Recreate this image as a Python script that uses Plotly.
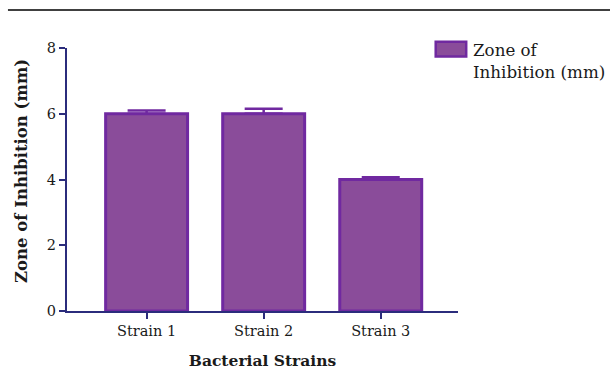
import plotly.graph_objects as go

# Data
strains = ["Strain 1", "Strain 2", "Strain 3"]
zone_mm = [6.0, 6.0, 4.0]
zone_err = [0.1, 0.15, 0.07]
y_ticks = [0, 2, 4, 6, 8]
series_name = "Zone of<br>Inhibition (mm)"

FILL = "#8A4C9A"
EDGE = "#7029A0"
AXIS = "#2B2C7C"
FONT = "DejaVu Serif"
TEXT = "#1a1a1a"

fig = go.Figure()
fig.add_trace(go.Bar(
    x=strains,
    y=zone_mm,
    name=series_name,
    width=0.7,
    showlegend=False,
    marker=dict(color=FILL, line=dict(color=EDGE, width=3)),
    error_y=dict(type="data", array=zone_err, arrayminus=[0] * len(zone_err),
                 symmetric=False, color=EDGE, thickness=2.5, width=19),
))

# Legend key: wide swatch with a two-line label beside it
fig.add_shape(type="rect", xref="paper", yref="paper",
              x0=0.943, x1=1.021, y0=0.968, y1=1.024,
              fillcolor=FILL, line=dict(color=EDGE, width=2.5))
fig.add_annotation(text=series_name, xref="paper", yref="paper",
                   x=1.036, y=1.036, xanchor="left", yanchor="top",
                   align="left", showarrow=False, borderpad=0,
                   font=dict(size=16.7, color=TEXT, family=FONT))

# Vertical axis title
fig.add_annotation(text="<b>Zone of Inhibition (mm)</b>", xref="paper", yref="paper",
                   x=-0.118, y=0.532, xanchor="center", yanchor="middle",
                   textangle=-90, showarrow=False,
                   font=dict(size=16.5, color=TEXT, family=FONT))

fig.update_layout(
    width=610, height=370,
    margin=dict(l=67, r=152, t=48, b=59),
    paper_bgcolor="white", plot_bgcolor="white",
    font=dict(family=FONT, size=14, color=TEXT),
    showlegend=False,
    xaxis=dict(
        range=[-0.68, 2.66], automargin=False,
        showline=True, linecolor=AXIS, linewidth=2,
        ticks="outside", tickcolor=AXIS, tickwidth=2, ticklen=6,
        tickfont=dict(size=14.5),
        title=dict(text="<b>Bacterial Strains</b>", font=dict(size=15.5), standoff=19),
        showgrid=False, zeroline=False,
    ),
    yaxis=dict(
        range=[0, 8], tickvals=y_ticks, automargin=False,
        showline=True, linecolor=AXIS, linewidth=2,
        ticks="outside", tickcolor=AXIS, tickwidth=2, ticklen=6,
        tickfont=dict(size=14.5),
        showgrid=False, zeroline=False,
    ),
)
fig.add_shape(type="line", xref="paper", yref="paper",
              x0=-0.151, x1=1.39, y0=1.1445, y1=1.1445,
              line=dict(color="black", width=1.5))

fig.write_html("out.html")
